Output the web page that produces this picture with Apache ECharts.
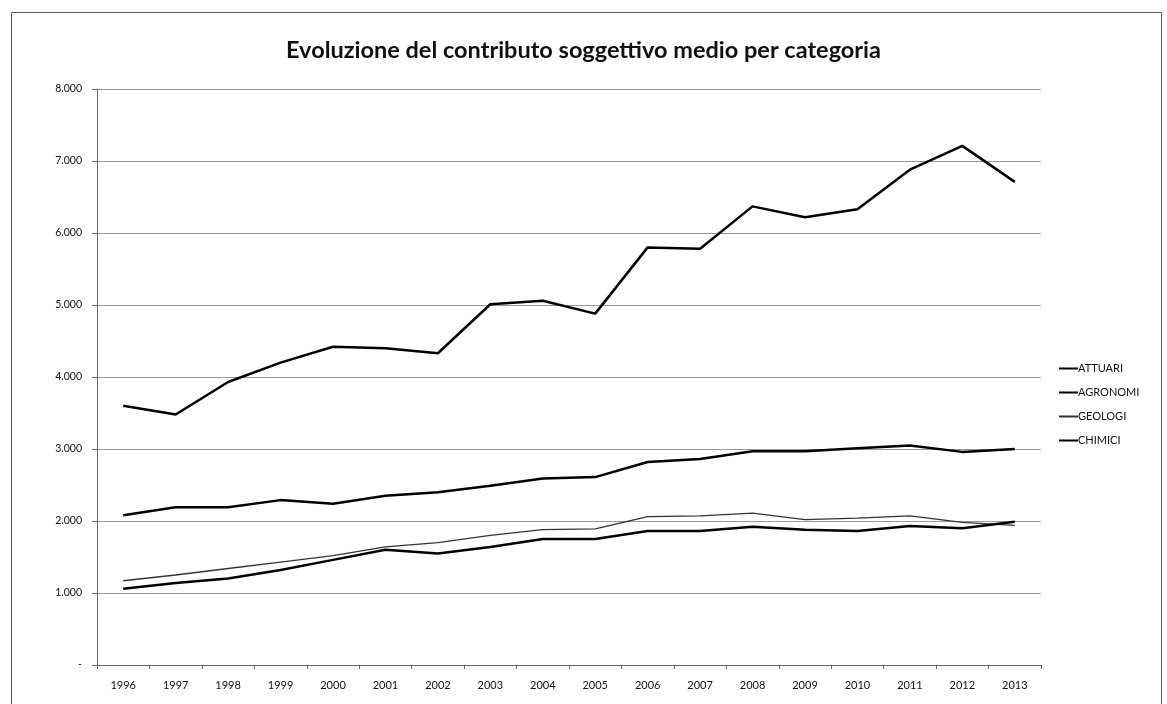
<!DOCTYPE html>
<html>
<head>
<meta charset="utf-8">
<script src="https://cdn.jsdelivr.net/npm/echarts@6/dist/echarts.min.js"></script>
<style>html,body{margin:0;padding:0;background:#fff}#c{width:1167px;height:704px}</style>
</head>
<body>
<div id="c"></div>
<script>
const years = ['1996','1997','1998','1999','2000','2001','2002','2003','2004','2005','2006','2007','2008','2009','2010','2011','2012','2013'];
const attuari  = [3600,3480,3930,4200,4420,4400,4330,5010,5060,4880,5800,5780,6370,6220,6330,6880,7210,6710];
const agronomi = [2080,2190,2190,2290,2240,2350,2400,2490,2590,2610,2820,2860,2970,2970,3010,3050,2960,3000];
const geologi  = [1170,1250,1340,1430,1520,1640,1700,1800,1880,1890,2060,2070,2110,2020,2040,2070,1980,1940];
const chimici  = [1060,1140,1200,1320,1460,1600,1550,1640,1750,1750,1860,1860,1920,1880,1860,1930,1900,1990];
const seriesNames = ['ATTUARI','AGRONOMI','GEOLOGI','CHIMICI'];
const seriesData = [attuari, agronomi, geologi, chimici];
const seriesWidths = [2.5, 2.5, 1.3, 2.5];
const titleText = 'Evoluzione del contributo soggettivo medio per categoria';

const chart = echarts.init(document.getElementById('c'));
const fmt = v => v === 0 ? '-' : (v/1000).toFixed(3);
chart.setOption({
  animation: false,
  backgroundColor: '#fff',
  title: {
    text: titleText, left: 'center', top: 33,
    textStyle: {fontFamily: 'Lato', fontWeight: 'bold', fontSize: 23.5, color: '#111'}
  },
  graphic: [{
    type: 'rect', left: 9, top: 10, shape: {width: 1150, height: 700},
    style: {fill: 'none', stroke: '#555', lineWidth: 1}, silent: true
  }],
  legend: {
    orient: 'vertical', left: 1054, top: 358, itemGap: 13,
    itemWidth: 19, itemHeight: 2, icon: 'rect',
    textStyle: {fontFamily: 'Lato', fontSize: 11, color: '#111', padding: [0,0,0,-5]},
    data: seriesNames
  },
  grid: {left: 97, right: 126, top: 89, bottom: 39, containLabel: false},
  xAxis: {
    type: 'category', data: years, boundaryGap: true,
    axisLine: {lineStyle: {color: '#666', width: 1}},
    axisTick: {show: true, length: 4, lineStyle: {color: '#666'}},
    axisLabel: {fontFamily: 'Lato', fontSize: 11, color: '#111', margin: 15}
  },
  yAxis: {
    type: 'value', min: 0, max: 8000, interval: 1000,
    axisLine: {show: true, lineStyle: {color: '#666', width: 1}},
    axisTick: {show: true, length: 5, inside: false, lineStyle: {color: '#666'}},
    axisLabel: {fontFamily: 'Lato', fontSize: 10.5, color: '#111', margin: 15, formatter: fmt},
    splitLine: {lineStyle: {color: '#999', width: 1}}
  },
  series: seriesNames.map((n, i) => ({
    name: n, type: 'line', data: seriesData[i], symbol: 'none',
    lineStyle: {color: i === 2 ? '#333' : '#000', width: seriesWidths[i]},
    itemStyle: {color: i === 2 ? '#333' : '#000'}
  }))
});
</script>
</body>
</html>
